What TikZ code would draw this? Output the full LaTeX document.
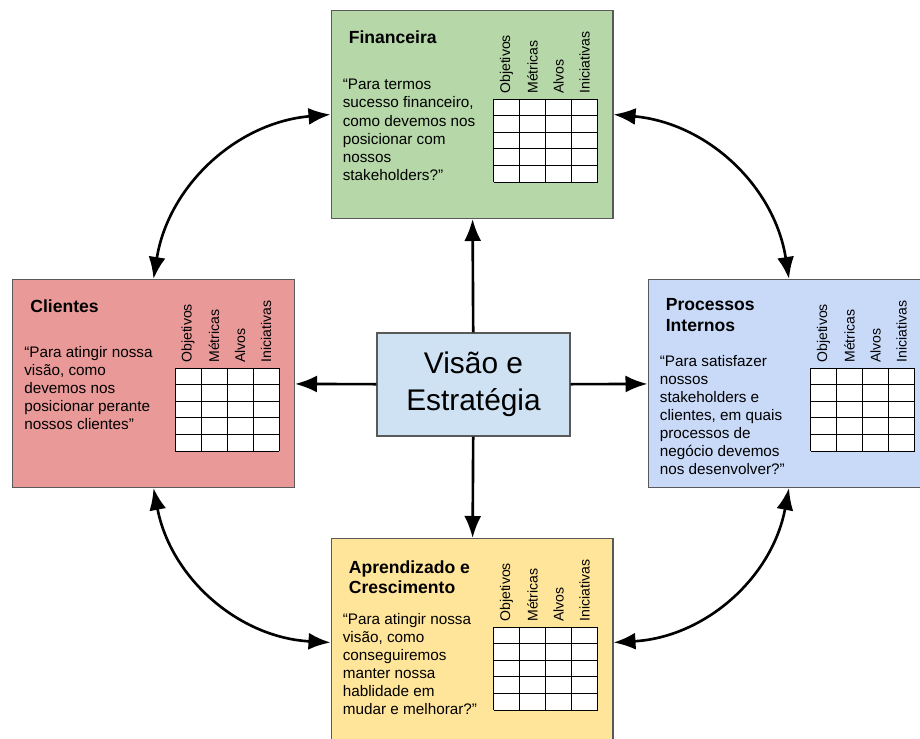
\documentclass[tikz,border=0pt]{standalone}
\usepackage{fontspec}
\setmainfont{Liberation Sans}
\usetikzlibrary{arrows.meta}
\definecolor{verde}{HTML}{B6D7A8}
\definecolor{vermelho}{HTML}{EA9999}
\definecolor{azul}{HTML}{C9DAF8}
\definecolor{amarelo}{HTML}{FFE599}
\definecolor{azulclaro}{HTML}{CFE2F3}
\definecolor{borda}{HTML}{595959}
\tikzset{
  >={Latex[length=4.4mm,width=3.4mm]},
  caixa/.style={draw=borda, line width=0.6pt, minimum width=5.64cm, minimum height=4.16cm, inner sep=0pt},
  titulo/.style={anchor=north west, inner sep=0pt, align=left, font=\bfseries\fontsize{10}{11.8}\selectfont},
  pergunta/.style={anchor=north west, inner sep=0pt, align=left, font=\fontsize{8.7}{10.3}\selectfont},
  cabec/.style={rotate=90, anchor=west, inner sep=0pt, font=\fontsize{8}{9.6}\selectfont},
  seta/.style={->, line width=1.5pt},
  setadupla/.style={<->, line width=1.5pt}
}
% tabela de objetivos / metricas / alvos / iniciativas
\newcommand{\tabelabsc}{%
  \fill[white] (163,89) rectangle (267,172);
  \foreach \i in {0,...,4} \draw[line width=0.5pt] (163+\i*26,89) -- (163+\i*26,172);
  \foreach \j in {0,...,5} \draw[line width=0.5pt] (163,89+\j*16.6) -- (267,89+\j*16.6);
  \foreach \h [count=\k from 0] in {Objetivos,Métricas,Alvos,Iniciativas}
    \node[cabec] at (176+\k*26,84) {\h};
}

\begin{document}
\begin{tikzpicture}[x=0.02cm, y=-0.02cm]
  \useasboundingbox (0,0) rectangle (920,739);
  \clip (0,0) rectangle (920,739);
  \node[caixa, fill=verde] (fin) at (472,114.5) {};
  \node[caixa, fill=vermelho] (cli) at (153.5,383.5) {};
  \node[caixa, fill=azul] (proc) at (789,383.5) {};
  \node[caixa, fill=amarelo] (apr) at (472,642.5) {};
  \node[draw=borda, line width=0.6pt, fill=azulclaro, minimum width=3.86cm, minimum height=2.06cm,
    align=center, font=\fontsize{17}{21}\selectfont] (vis) at (473.5,384.5) {Visão e\\Estratégia};

  \begin{scope}[shift={(fin.north west)}]
    \node[titulo] (fintit) at (18,20) {Financeira};
    \node[pergunta] (finperg) at (12,69) {“Para termos\\sucesso financeiro,\\como devemos nos\\posicionar com\\nossos\\stakeholders?”};
    \tabelabsc
  \end{scope}
  \begin{scope}[shift={(cli.north west)}]
    \node[titulo] (clitit) at (18,20) {Clientes};
    \node[pergunta] (cliperg) at (12,67) {“Para atingir nossa\\visão, como\\devemos nos\\posicionar perante\\nossos clientes”};
    \tabelabsc
  \end{scope}
  \begin{scope}[shift={(proc.north west)}]
    \node[titulo] (proctit) at (18,19) {Processos\\Internos};
    \node[pergunta] (procperg) at (12,76) {“Para satisfazer\\nossos\\stakeholders e\\clientes, em quais\\processos de\\negócio devemos\\nos desenvolver?”};
    \tabelabsc
  \end{scope}
  \begin{scope}[shift={(apr.north west)}]
    \node[titulo] (aprtit) at (18,22) {Aprendizado e\\Crescimento};
    \node[pergunta] (aprperg) at (12,75) {“Para atingir nossa\\visão, como\\conseguiremos\\manter nossa\\hablidade em\\mudar e melhorar?”};
    \tabelabsc
  \end{scope}

  \draw[seta] (vis) -- (fin);
  \draw[seta] (vis) -- (cli);
  \draw[seta] (vis) -- (proc);
  \draw[seta] (vis) -- (apr);

  \draw[setadupla] (cli.north) to[bend left=38] (fin.west);
  \draw[setadupla] (fin.east) to[bend left=38] (proc.north);
  \draw[setadupla] (proc.south) to[bend left=38] (apr.east);
  \draw[setadupla] (apr.west) to[bend left=38] (cli.south);
\end{tikzpicture}
\end{document}
